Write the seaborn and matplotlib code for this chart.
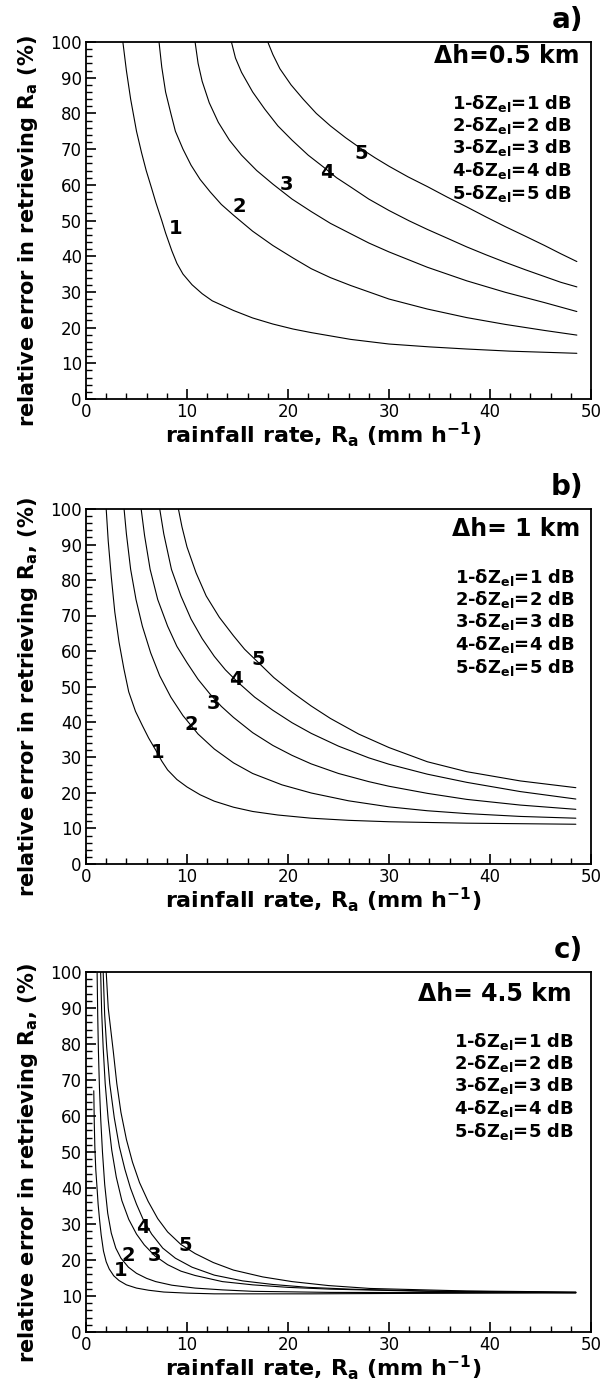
import matplotlib
matplotlib.use("Agg")
import matplotlib.pyplot as plt
import seaborn as sns
import pandas as pd
from matplotlib.ticker import MultipleLocator

# ------------------------
# values (x = rainfall rate, y = relative error %)
# ------------------------
a_x1 = [3.65, 4.0, 4.42, 5.0, 5.5, 5.96, 6.5, 6.92, 7.5, 7.88, 8.5, 9.0, 9.6, 10.5, 11.5, 12.5,
        14.6, 16.5, 18.5, 20.5, 22.3, 26.2, 30.0, 34.0, 37.7, 42.0, 48.6]
a_y1 = [100, 92, 84, 75, 69, 64, 59, 55, 50, 46.5, 41.5, 38, 35, 32, 29.5, 27.5,
        24.8, 22.7, 21, 19.6, 18.6, 16.7, 15.4, 14.6, 14.0, 13.4, 12.8]
a_x2 = [7.23, 7.5, 7.88, 8.4, 8.85, 9.6, 10.4, 11.3, 12.3, 13.4, 14.6, 16.5, 18.5, 20.5, 22.3,
        24.2, 26.2, 28.0, 30.0, 33.8, 37.7, 41.5, 45.4, 48.6]
a_y2 = [100, 93, 86, 80, 75, 70, 65.5, 61.5, 58, 54.5, 51.5, 47, 43, 39.5, 36.5,
        34, 31.8, 30, 28, 25.2, 22.8, 20.9, 19.2, 17.9]
a_x3 = [10.8, 11.1, 11.5, 12.2, 13.1, 14.2, 15.4, 16.9, 18.5, 20.4, 22.3, 24.2, 26.2, 28.0,
        30.0, 33.8, 37.7, 41.5, 45.4, 48.6]
a_y3 = [100, 94, 89, 83, 77.5, 72.5, 68.3, 64, 60.2, 56, 52.5, 49.2, 46.3, 43.7,
        41.2, 36.9, 33.1, 29.9, 27, 24.5]
a_x4 = [14.4, 14.8, 15.4, 16.5, 17.7, 19.0, 20.4, 22.0, 23.5, 24.8, 26.2, 28.0, 30.0, 32.0,
        33.8, 35.8, 37.7, 39.6, 41.5, 43.5, 45.4, 47.0, 48.6]
a_y4 = [100, 95.5, 91.5, 86, 81.2, 76.5, 72.5, 68.3, 65, 62, 59.4, 56, 52.8, 49.9,
        47.5, 45, 42.6, 40.4, 38.3, 36.2, 34.3, 32.7, 31.4]
a_x5 = [18.0, 18.5, 19.2, 20.3, 21.5, 22.8, 24.2, 25.7, 27.3, 28.6, 30.0, 31.9, 33.8, 35.8,
        37.7, 39.6, 41.5, 43.5, 45.4, 47.0, 48.6]
a_y5 = [100, 96.5, 92.5, 88, 84, 80, 76.5, 73.2, 70, 67.6, 65.2, 62.2, 59.5, 56.5,
        53.8, 51, 48.3, 45.6, 43, 40.7, 38.5]

b_x1 = [2.0, 2.2, 2.5, 2.85, 3.27, 3.75, 4.23, 4.9, 5.58, 6.2, 6.92, 7.5, 8.08, 9.0, 10.0,
        11.3, 12.7, 14.6, 16.5, 19.0, 22.3, 26.0, 30.0, 37.7, 48.5]
b_y1 = [100, 91, 81, 71, 62.5, 55, 48.5, 43, 39, 35.5, 32, 29, 26.5, 23.8, 21.7,
        19.5, 17.7, 16, 14.8, 13.8, 12.9, 12.3, 11.9, 11.5, 11.2]
b_x2 = [3.77, 4.0, 4.42, 4.95, 5.58, 6.4, 7.3, 8.4, 9.6, 11.1, 12.7, 14.6, 16.5, 19.4, 22.3,
        26.0, 30.0, 33.8, 37.7, 43.0, 48.5]
b_y2 = [100, 93, 83, 74.5, 67, 59.5, 53, 47, 41.8, 36.6, 32.4, 28.5, 25.5, 22.3, 20,
        17.8, 16.1, 15, 14.2, 13.4, 12.9]
b_x3 = [5.46, 5.8, 6.35, 7.1, 8.08, 9.0, 10.0, 11.1, 12.3, 13.4, 14.6, 16.5, 18.5, 20.4,
        22.3, 25.0, 28.0, 30.0, 33.8, 37.7, 43.0, 48.5]
b_y3 = [100, 92.5, 83, 74.5, 67, 61.3, 56.7, 52, 47.8, 44.4, 41.3, 37, 33.4, 30.6,
        28.2, 25.5, 23.2, 21.9, 19.9, 18.2, 16.6, 15.4]
b_x4 = [7.3, 7.7, 8.46, 9.4, 10.4, 11.5, 12.7, 13.8, 15.0, 16.7, 18.5, 20.4, 22.3, 25.0,
        28.0, 30.0, 33.8, 37.7, 43.0, 48.5]
b_y4 = [100, 93, 83, 75.5, 69, 63.5, 58.5, 54.7, 51.3, 47, 43.3, 39.8, 36.8, 33.2,
        29.9, 28.1, 25.3, 23, 20.4, 18.3]
b_x5 = [9.15, 9.5, 10.0, 10.9, 11.9, 13.2, 14.6, 15.7, 16.9, 18.6, 20.4, 22.3, 24.2, 27.0,
        30.0, 33.8, 37.7, 43.0, 48.5]
b_y5 = [100, 95, 89.3, 82, 75.5, 69.5, 64.3, 60.5, 57.2, 52.5, 48.4, 44.5, 41, 36.6,
        32.8, 28.8, 26, 23.4, 21.5]

c_x1 = [0.77, 0.82, 0.88, 0.97, 1.08, 1.2, 1.35, 1.5, 1.73, 2.0, 2.3, 2.75, 3.27, 4.0, 5.0,
        6.2, 7.7, 10.0, 12.7, 22.3, 30.0, 48.5]
c_y1 = [67, 58, 51, 45, 40.6, 35.5, 31, 27, 22.5, 19.5, 17.5, 15.6, 14.3, 13.1, 12.2,
        11.6, 11.1, 10.8, 10.6, 10.6, 10.7, 10.9]
c_x2 = [1.1, 1.16, 1.23, 1.33, 1.46, 1.63, 1.85, 2.15, 2.5, 2.95, 3.46, 4.2, 5.0, 6.0, 6.9,
        8.5, 10.8, 13.5, 16.5, 24.2, 48.5]
c_y2 = [100, 88, 78, 68, 59, 50, 41, 33, 27.5, 23.3, 20.5, 18, 16.3, 14.9, 14,
        13, 12.2, 11.7, 11.3, 11.0, 10.9]
c_x3 = [1.45, 1.55, 1.7, 1.9, 2.2, 2.55, 3.0, 3.55, 4.23, 5.0, 5.77, 6.8, 8.08, 9.4, 10.8,
        13.5, 16.5, 20.0, 24.2, 33.8, 48.5]
c_y3 = [100, 89, 79, 69, 59, 50.5, 43, 36.5, 31.3, 27.2, 24.2, 21.2, 18.7, 16.9, 15.7,
        14, 13.1, 12.4, 11.9, 11.3, 10.9]
c_x4 = [1.7, 1.85, 2.05, 2.35, 2.8, 3.3, 3.85, 4.4, 5.0, 5.7, 6.5, 7.6, 8.85, 10.5, 12.7,
        15.5, 18.5, 22.0, 26.2, 33.8, 48.5]
c_y4 = [100, 88, 79, 69, 59.5, 51.5, 45.2, 40, 35.5, 31, 27.2, 23.3, 20.5, 18, 15.8,
        14.2, 13.2, 12.4, 11.9, 11.4, 11.0]
c_x5 = [2.0, 2.2, 2.45, 2.7, 3.05, 3.46, 4.0, 4.6, 5.3, 6.15, 7.1, 8.08, 9.4, 10.8, 12.6,
        14.6, 17.5, 20.4, 24.0, 28.1, 37.7, 48.5]
c_y5 = [100, 90, 84, 78, 69, 61, 53.5, 47.2, 41.5, 36.3, 31.5, 27.8, 24.3, 21.8, 19.3,
        17.2, 15.3, 14, 12.9, 12.1, 11.4, 11.1]

curve_ids = ["1", "2", "3", "4", "5"]
panel_tags = ["a)", "b)", "c)"]
dh_labels = ["\u0394h=0.5 km", "\u0394h= 1 km", "\u0394h= 4.5 km"]
legend_lines = ["%s-\u03b4Z$_{\\mathbf{el}}$=%s dB" % (k, k) for k in curve_ids]
ylabels = [r"relative error in retrieving R$_\mathbf{a}$ (%)",
           r"relative error in retrieving R$_\mathbf{a}$, (%)",
           r"relative error in retrieving R$_\mathbf{a}$, (%)"]
xlabel = r"rainfall rate, R$_\mathbf{a}$ (mm h$^{\mathbf{-1}}$)"

# where the curve numbers sit (data coords)
a_lab = [(8.85, 47.7), (15.2, 54.0), (19.8, 60.0), (23.8, 63.5), (27.3, 68.9)]
b_lab = [(7.1, 31.5), (10.4, 39.4), (12.6, 45.3), (14.8, 52.0), (17.1, 57.6)]
c_lab = [(3.4, 17.1), (4.2, 21.2), (6.8, 21.2), (5.6, 29.1), (9.8, 24.0)]


def make_frame(xs, ys):
    rows = []
    for cid, x, y in zip(curve_ids, xs, ys):
        rows.append(pd.DataFrame({"rate": x, "err": y, "curve": cid}))
    return pd.concat(rows, ignore_index=True)


panels = [
    (make_frame([a_x1, a_x2, a_x3, a_x4, a_x5], [a_y1, a_y2, a_y3, a_y4, a_y5]), a_lab),
    (make_frame([b_x1, b_x2, b_x3, b_x4, b_x5], [b_y1, b_y2, b_y3, b_y4, b_y5]), b_lab),
    (make_frame([c_x1, c_x2, c_x3, c_x4, c_x5], [c_y1, c_y2, c_y3, c_y4, c_y5]), c_lab),
]

sns.set_theme(style="ticks")
plt.rcParams["font.family"] = ["DejaVu Sans"]
plt.rcParams["mathtext.fontset"] = "dejavusans"
for key in ["text.color", "axes.labelcolor", "xtick.color", "ytick.color", "axes.edgecolor"]:
    plt.rcParams[key] = "black"

fig = plt.figure(figsize=(6.1, 13.82), dpi=100)
W, H = 610.0, 1382.0
boxes = [(42, 399), (509, 864), (972, 1332)]   # top/bottom pixel rows of each axes
dh_off = [14, 20, 22]
leg_top = [61, 68, 69]
leg_right = [19, 16, 17]
dh_right = [12, 11, 19]

for i, ((df, labs), (top, bot)) in enumerate(zip(panels, boxes)):
    ax = fig.add_axes([86 / W, 1 - bot / H, (591 - 86) / W, (bot - top) / H])
    sns.lineplot(data=df, x="rate", y="err", hue="curve", palette=["black"] * 5,
                 estimator=None, sort=True, legend=False, linewidth=0.8, ax=ax)
    ax.set_xlim(0, 50)
    ax.set_ylim(0, 100)
    ax.xaxis.set_major_locator(MultipleLocator(10))
    ax.xaxis.set_minor_locator(MultipleLocator(2))
    ax.yaxis.set_major_locator(MultipleLocator(10))
    ax.yaxis.set_minor_locator(MultipleLocator(2))
    ax.tick_params(which="major", direction="in", length=7, width=1.2, labelsize=12, pad=3)
    ax.tick_params(which="minor", direction="in", length=4, width=1.0)
    for s in ax.spines.values():
        s.set_linewidth(1.3)
        s.set_visible(True)

    ax.set_xlabel(xlabel, fontsize=16, fontweight="bold")
    ax.set_ylabel(ylabels[i], fontsize=15, fontweight="bold")
    ax.xaxis.set_label_coords(0.47, -0.06)
    ax.yaxis.set_label_coords(-0.092, 0.47)

    for cid, (lx, ly) in zip(curve_ids, labs):
        ax.text(lx, ly, cid, fontsize=14, fontweight="bold", ha="center", va="center")

    px_h = bot - top
    ax.text(1 - dh_right[i] / 505, 1 - dh_off[i] / px_h, dh_labels[i], transform=ax.transAxes,
            fontsize=17, fontweight="bold", ha="right", va="center")
    for k, line in enumerate(legend_lines):
        ax.text(1 - leg_right[i] / 505, 1 - (leg_top[i] + 22.5 * k) / px_h, line,
                transform=ax.transAxes, fontsize=13, fontweight="bold", ha="right", va="center")

    fig.text(583 / W, 1 - (top - 22) / H, panel_tags[i], fontsize=20, fontweight="bold",
             ha="right", va="center")

fig.savefig("out.png", dpi=100)
